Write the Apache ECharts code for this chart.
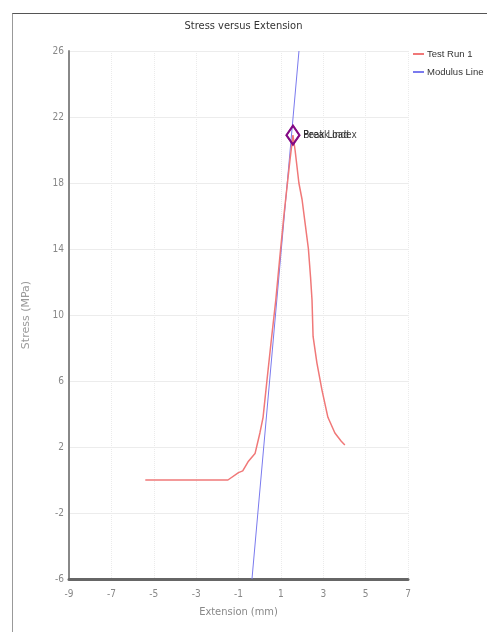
<!DOCTYPE html>
<html>
<head>
<meta charset="utf-8">
<script src="https://cdn.jsdelivr.net/npm/echarts@6/dist/echarts.min.js"></script>
<style>
  html, body { margin: 0; padding: 0; background: #fff; }
  #frame {
    position: absolute; left: 12px; top: 13px; right: 0; bottom: 0;
    border-top: 1px solid #555; border-left: 1px solid #999;
  }
  #chart { position: absolute; left: 0; top: 0; width: 487px; height: 632px; }
</style>
</head>
<body>
<div id="frame"></div>
<div id="chart"></div>
<script>
// Test Run 1 : [extension mm, stress MPa]
var testRun = [
  [-5.4, 0.0], [-4.5, 0.0], [-3.5, 0.0], [-2.5, 0.0], [-1.5, 0.0],
  [-1.0, 0.45], [-0.8, 0.55], [-0.55, 1.1], [-0.22, 1.6], [0.01, 2.85],
  [0.16, 3.8], [0.34, 6.0], [0.55, 8.5], [0.76, 10.9], [0.95, 13.5],
  [1.14, 16.0], [1.43, 19.4], [1.57, 20.9], [1.67, 20.0], [1.85, 18.0],
  [2.0, 17.0], [2.14, 15.6], [2.3, 14.0], [2.4, 12.3], [2.47, 10.9], [2.52, 8.7],
  [2.7, 7.1], [2.94, 5.45], [3.22, 3.8], [3.55, 2.85], [3.85, 2.35], [4.02, 2.12]
];
// Modulus line end points
var modulusLine = [[-0.364, -6], [1.854, 26]];
// Marker points
var markers = [
  { name: "Peak Load", value: [1.57, 20.9] },
  { name: "Break Index", value: [1.57, 20.9] }
];
var xMin = -9, xMax = 7, xStep = 2;
var yMin = -6, yMax = 26, yStep = 4;

var font = "'DejaVu Sans Condensed', 'Liberation Sans', sans-serif";
var myChart = echarts.init(document.getElementById("chart"));
var option = {
  animation: false,
  title: {
    text: "Stress versus Extension",
    left: "center",
    top: 16,
    textStyle: { fontFamily: font, fontSize: 11, fontWeight: "normal", color: "#333" }
  },
  legend: {
    orient: "vertical",
    left: 408,
    top: 44,
    itemWidth: 11,
    itemHeight: 2,
    itemGap: 8,
    icon: "rect",
    data: ["Test Run 1", "Modulus Line"],
    textStyle: { fontFamily: "'Liberation Sans', sans-serif", fontSize: 9.5, color: "#333", padding: [0, 0, 0, -2] }
  },
  grid: { left: 69, right: 79, top: 51, bottom: 53, containLabel: false },
  xAxis: {
    type: "value",
    min: xMin, max: xMax, interval: xStep,
    name: "Extension (mm)",
    nameLocation: "middle",
    nameGap: 28,
    nameTextStyle: { fontFamily: font, fontSize: 11, color: "#888" },
    axisLine: { show: true, onZero: false, lineStyle: { color: "#666", width: 3 } },
    axisTick: { show: false },
    axisLabel: { fontFamily: font, fontSize: 10, color: "#888", margin: 10 },
    splitLine: { show: true, lineStyle: { color: "#ebebeb", type: "dotted" } }
  },
  yAxis: {
    type: "value",
    min: yMin, max: yMax, interval: yStep,
    name: "Stress (MPa)",
    nameLocation: "middle",
    nameGap: 37,
    nameTextStyle: { fontFamily: "'DejaVu Sans', sans-serif", fontSize: 11, color: "#999" },
    axisLine: { show: true, onZero: false, lineStyle: { color: "#888", width: 2 } },
    axisTick: { show: false },
    axisLabel: { fontFamily: font, fontSize: 10, color: "#888", margin: 5 },
    splitLine: { show: true, lineStyle: { color: "#ececec" } }
  },
  series: [
    {
      name: "Test Run 1",
      type: "line",
      data: testRun,
      showSymbol: false,
      color: "#f07878",
      lineStyle: { width: 1.5 },
      z: 3
    },
    {
      name: "Modulus Line",
      type: "line",
      data: modulusLine,
      showSymbol: false,
      color: "#7a7aee",
      lineStyle: { width: 1 },
      z: 2
    },
    {
      name: "markers",
      type: "scatter",
      data: markers,
      symbol: "diamond",
      symbolSize: [13, 19],
      itemStyle: { color: "rgba(255,255,255,0)", borderColor: "#800080", borderWidth: 2 },
      label: {
        show: true,
        position: "right",
        distance: 3,
        formatter: "{b}",
        fontFamily: font,
        fontSize: 10,
        color: "#111"
      },
      z: 5
    }
  ]
};
myChart.setOption(option);
</script>
</body>
</html>
